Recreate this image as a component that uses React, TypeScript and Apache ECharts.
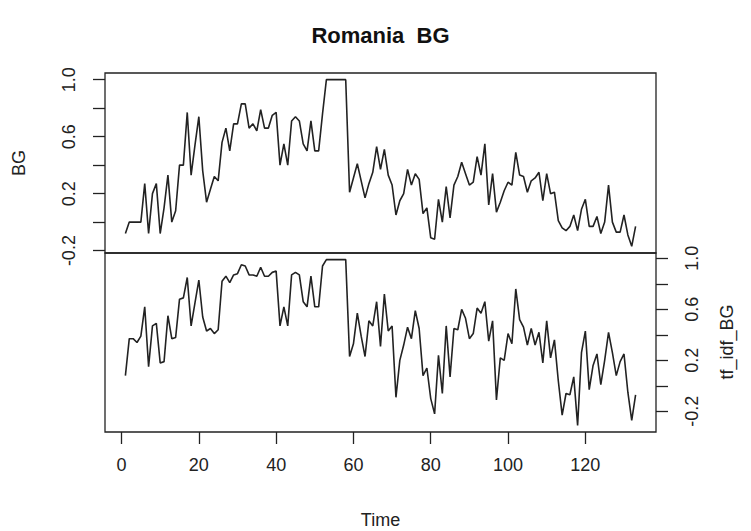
import React, { useEffect, useRef } from "react";
import * as echarts from "echarts";

const titleText = "Romania  BG";
const topName = "BG";
const bottomName = "tf_idf_BG";
const xName = "Time";

const xTicks = [0, 20, 40, 60, 80, 100, 120];
const yTicks = [-0.2, 0, 0.2, 0.4, 0.6, 0.8, 1.0];
const yLabels = [-0.2, 0.2, 0.6, 1.0];

const topValues = [
  -0.08, 0.0, 0.0, 0.0, 0.0, 0.27, -0.08, 0.2, 0.27, -0.08,
  0.1, 0.33, 0.0, 0.08, 0.4, 0.4, 0.77, 0.33, 0.54, 0.74,
  0.36, 0.14, 0.23, 0.32, 0.29, 0.56, 0.66, 0.5, 0.69, 0.69,
  0.83, 0.83, 0.66, 0.69, 0.64, 0.79, 0.66, 0.66, 0.75, 0.77,
  0.4, 0.55, 0.4, 0.71, 0.74, 0.71, 0.55, 0.5, 0.71, 0.5,
  0.5, 0.76, 1.0, 1.0, 1.0, 1.0, 1.0, 1.0, 0.21, 0.31,
  0.41, 0.29, 0.17, 0.27, 0.35, 0.53, 0.37, 0.51, 0.33, 0.26,
  0.05, 0.15, 0.2, 0.37, 0.26, 0.34, 0.3, 0.06, 0.1, -0.11,
  -0.12, 0.16, 0.0, 0.25, 0.03, 0.26, 0.32, 0.42, 0.34, 0.26,
  0.28, 0.46, 0.33, 0.55, 0.12, 0.34, 0.07, 0.14, 0.22, 0.28,
  0.26, 0.49, 0.33, 0.32, 0.21, 0.29, 0.31, 0.35, 0.15, 0.34,
  0.2, 0.21, 0.01, -0.04, -0.06, -0.03, 0.05, -0.06, 0.09, 0.16,
  -0.03, -0.03, 0.04, -0.08, 0.0, 0.26, 0.0, -0.07, -0.07, 0.05,
  -0.09, -0.17, -0.03,
];

const bottomValues = [
  0.08, 0.37, 0.37, 0.34, 0.39, 0.62, 0.15, 0.47, 0.49, 0.18,
  0.19, 0.55, 0.37, 0.38, 0.68, 0.69, 0.85, 0.47, 0.65, 0.83,
  0.54, 0.43, 0.45, 0.41, 0.44, 0.82, 0.86, 0.81, 0.87, 0.88,
  0.95, 0.94, 0.87, 0.87, 0.86, 0.93, 0.86, 0.86, 0.89, 0.9,
  0.47, 0.62, 0.47, 0.87, 0.89, 0.87, 0.66, 0.62, 0.86, 0.62,
  0.62, 0.94, 0.99, 0.99, 0.99, 0.99, 0.99, 0.99, 0.23, 0.33,
  0.57, 0.39, 0.23, 0.51, 0.47, 0.66, 0.31, 0.72, 0.43, 0.47,
  -0.09, 0.2, 0.32, 0.46, 0.37, 0.59, 0.45, 0.08, 0.14, -0.1,
  -0.22, 0.24, -0.06, 0.47, 0.07, 0.45, 0.44, 0.6, 0.53, 0.37,
  0.41, 0.61, 0.57, 0.66, 0.35, 0.51, -0.11, 0.22, 0.2, 0.41,
  0.33, 0.76, 0.52, 0.46, 0.32, 0.45, 0.32, 0.42, 0.18, 0.51,
  0.22, 0.36, 0.04, -0.23, -0.06, -0.07, 0.07, -0.31, 0.26, 0.43,
  -0.03, 0.16, 0.25, 0.01, 0.2, 0.42, 0.26, 0.08, 0.19, 0.25,
  -0.05, -0.27, -0.07,
];

const startTime = 1;

function rRange(vals: number[]): [number, number] {
  const mn = Math.min(...vals);
  const mx = Math.max(...vals);
  const d = (mx - mn) * 0.04;
  return [mn - d, mx + d];
}

const FONT = "'Liberation Sans', Arial, Helvetica, sans-serif";
const INK = "#222";

export default function App() {
  const ref = useRef<HTMLDivElement>(null);
  useEffect(() => {
    if (!ref.current) return;
    const chart = echarts.init(ref.current, undefined, { renderer: "svg" });
    const times = topValues.map((_, i) => startTime + i);
    const [xMin, xMax] = rRange(times);
    const [t0, t1] = rRange(topValues);
    const [b0, b1] = rRange(bottomValues);
    const fmt = (v: number) => (Math.abs(v) < 1e-9 ? "0.0" : v.toFixed(1));

    const yAxisCommon = (position: "left" | "right") => ({
      type: "value",
      position,
      axisLine: { show: false, onZero: false },
      splitLine: { show: false },
      axisTick: {
        show: true,
        inside: false,
        length: 12,
        customValues: yTicks,
        lineStyle: { color: INK, width: 1.3 },
      },
      axisLabel: {
        show: true,
        customValues: yLabels,
        rotate: 90,
        margin: 27,
        formatter: fmt,
        color: INK,
        fontSize: 18,
        fontFamily: FONT,
      },
    });

    chart.setOption({
      animation: false,
      backgroundColor: "#ffffff",
      grid: [
        { left: 105, top: 73, width: 551, height: 180, show: true, borderColor: INK, borderWidth: 1.3, backgroundColor: "transparent" },
        { left: 105, top: 253, width: 551, height: 179, show: true, borderColor: INK, borderWidth: 1.3, backgroundColor: "transparent" },
      ],
      xAxis: [
        {
          type: "value", gridIndex: 0, min: xMin, max: xMax, position: "bottom",
          axisLine: { show: false, onZero: false }, axisTick: { show: false }, axisLabel: { show: false }, splitLine: { show: false },
        },
        {
          type: "value", gridIndex: 1, min: xMin, max: xMax, position: "bottom",
          axisLine: { show: false, onZero: false }, splitLine: { show: false },
          axisTick: { show: true, length: 12, customValues: xTicks, lineStyle: { color: INK, width: 1.3 } },
          axisLabel: { show: true, customValues: xTicks, margin: 24, color: INK, fontSize: 18, fontFamily: FONT },
        },
      ],
      yAxis: [
        { ...yAxisCommon("left"), gridIndex: 0, min: t0, max: t1 },
        { ...yAxisCommon("right"), gridIndex: 1, min: b0, max: b1 },
      ],
      series: [
        {
          type: "line", xAxisIndex: 0, yAxisIndex: 0, showSymbol: false,
          data: topValues.map((v, i) => [times[i], v]),
          lineStyle: { color: INK, width: 1.6 },
        },
        {
          type: "line", xAxisIndex: 1, yAxisIndex: 1, showSymbol: false,
          data: bottomValues.map((v, i) => [times[i], v]),
          lineStyle: { color: INK, width: 1.6 },
        },
      ],
      graphic: [
        {
          type: "text", x: 380.5, y: 35,
          style: { text: titleText, textAlign: "center", textVerticalAlign: "middle", fontSize: 22, fontWeight: "bold", fontFamily: FONT, fill: "#111" },
        },
        {
          type: "text", x: 19, y: 163, rotation: Math.PI / 2,
          style: { text: topName, textAlign: "center", textVerticalAlign: "middle", fontSize: 18, fontFamily: FONT, fill: INK },
        },
        {
          type: "text", x: 727, y: 342, rotation: Math.PI / 2,
          style: { text: bottomName, textAlign: "center", textVerticalAlign: "middle", fontSize: 18, fontFamily: FONT, fill: INK },
        },
        {
          type: "text", x: 380.5, y: 520,
          style: { text: xName, textAlign: "center", textVerticalAlign: "middle", fontSize: 18, fontFamily: FONT, fill: INK },
        },
      ],
    });
    return () => chart.dispose();
  }, []);
  return (
    <div
      ref={ref}
      style={{ position: "fixed", left: 0, top: 0, width: 751, height: 531, background: "#fff" }}
    />
  );
}
